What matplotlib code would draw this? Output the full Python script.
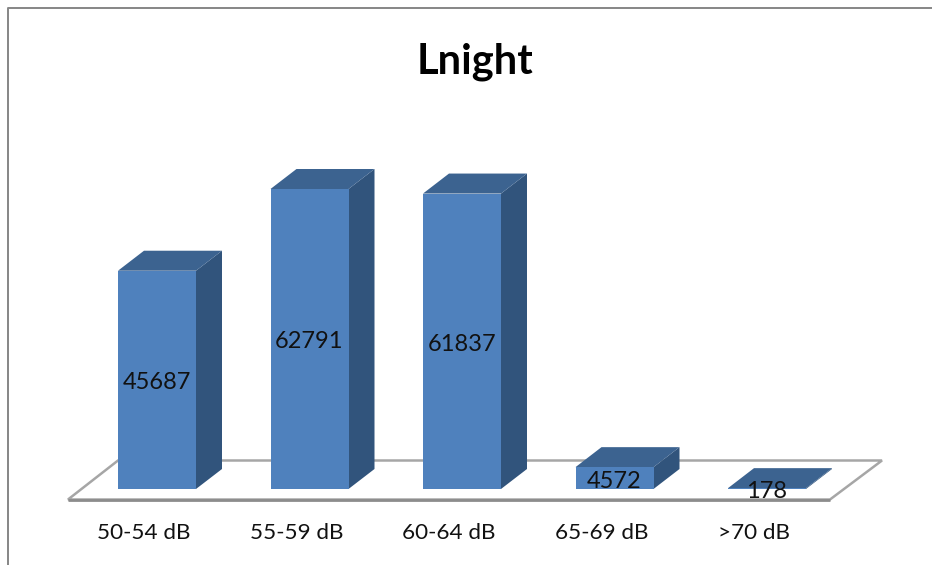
import matplotlib
matplotlib.use('Agg')
import matplotlib.pyplot as plt
from matplotlib.patches import Polygon

plt.rcParams['font.family'] = ['Lato', 'DejaVu Sans']

categories = ['50-54 dB', '55-59 dB', '60-64 dB', '65-69 dB', '>70 dB']
values = [45687, 62791, 61837, 4572, 178]

W, H = 932, 565
fig = plt.figure(figsize=(W/100, H/100), dpi=100)
ax = fig.add_axes([0, 0, 1, 1])
ax.axis('off')

# pixel layout of the plot area
x0 = 157.0        # centre of the first bar
step = 152.5      # px between bars
base = 489.0      # baseline
py = 300.0/62791  # px per unit
ax.set_xlim(-x0/step, (W-x0)/step)
ax.set_ylim(-(H-base)/py, base/py)

ux = 1/step
uy = 1/py
bw = 78*ux
dx = 26*ux
dy = 20*uy


def px(x, y):
    # figure pixel (top left origin) to data
    return ((x-x0)*ux, (base-y)*uy)


# floor
floor = Polygon([px(68, 499.5), px(118, 460.5), px(882, 460.5), px(830, 499.5)],
                closed=True, fc='white', ec='#a6a6a6', lw=1.8, zorder=1)
ax.add_patch(floor)
ax.plot(*zip(px(68, 499.5), px(830, 499.5)), color='#8c8c8c', lw=2, zorder=1.1,
        solid_capstyle='butt')

# frame, only left and top are visible
ax.plot(*zip(px(8, H), px(8, 8.5), px(W, 8.5)), color='#868686', lw=1.4, zorder=1)

for i, v in enumerate(values):
    l = i-bw/2
    r = i+bw/2
    ax.bar(i, v, width=bw, color='#4f81bd', linewidth=0, zorder=3)
    # side and top faces
    ax.add_patch(Polygon([(r, 0), (r+dx, dy), (r+dx, v+dy), (r, v)], closed=True,
                         fc='#31547c', ec='none', zorder=2.5))
    ax.add_patch(Polygon([(l, v), (l+dx, v+dy), (r+dx, v+dy), (r, v)], closed=True,
                         fc='#3c6390', ec='none', zorder=2.6))
    # value labels sit a little below the middle of the bar
    ax.annotate(str(v), (i, v/2), xytext=(0, -3*0.72), textcoords='offset points',
                ha='center', va='center', fontsize=17, color='#111111', zorder=5)
    # category labels are shifted left of the bars, towards the floor front edge
    ax.annotate(categories[i], (i, 0), xytext=(-13*0.72, -44*0.72), textcoords='offset points',
                ha='center', va='center', fontsize=16.2, color='#111111')

ax.text(475.5/W, 1-62/H, 'Lnight', transform=ax.transAxes, ha='center', va='center',
        fontsize=30, fontweight='bold', color='black')

fig.savefig('out.png', dpi=100)
